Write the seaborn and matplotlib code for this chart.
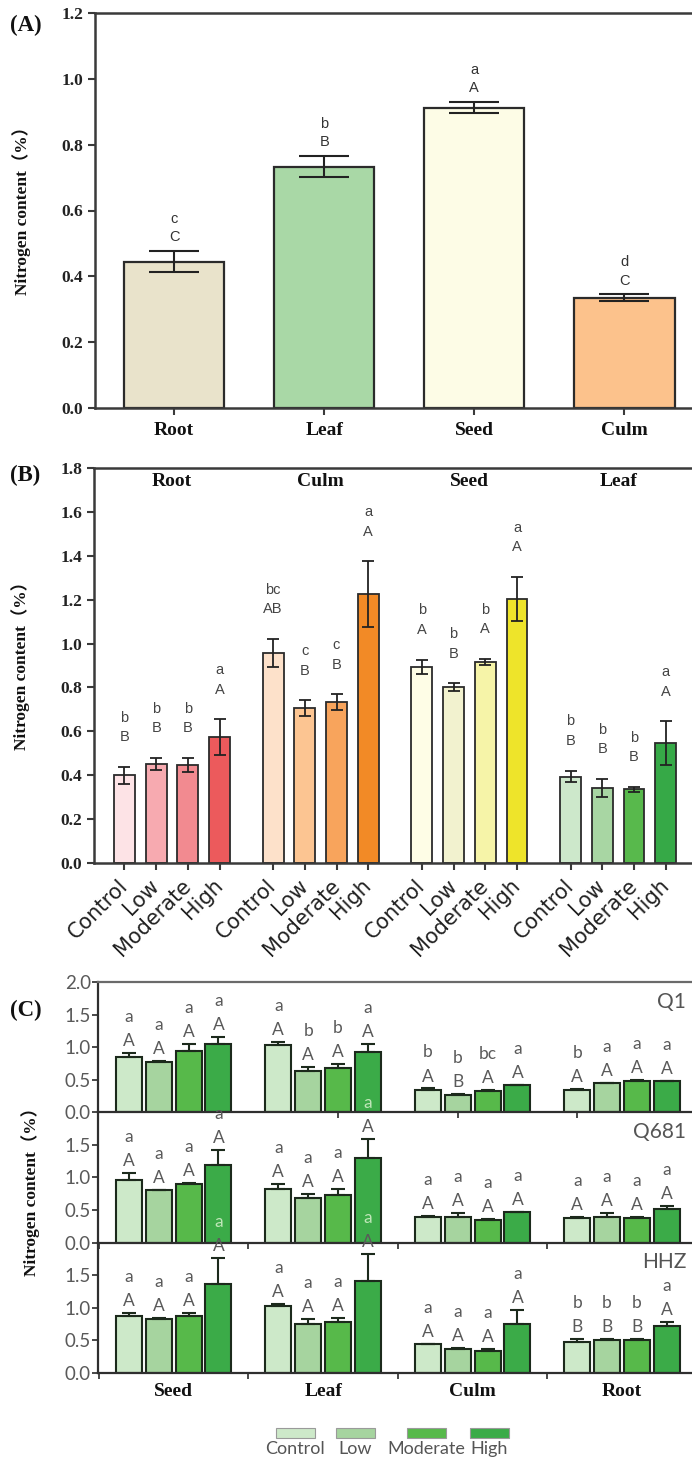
import numpy as np
import pandas as pd
import matplotlib
matplotlib.use("Agg")
import matplotlib.pyplot as plt
import seaborn as sns
from matplotlib.patches import Rectangle

# ---------------- data: panel A ----------------
a_tissues = ["Root", "Leaf", "Seed", "Culm"]
a_values = [0.445, 0.733, 0.912, 0.335]
a_errors = [0.032, 0.032, 0.017, 0.010]
a_lower = ["c", "b", "a", "d"]
a_upper = ["C", "B", "A", "C"]
a_colors = ["#e9e3cb", "#a9d8a6", "#fdfce6", "#fcc28c"]

# ---------------- data: panel B ----------------
treatments = ["Control", "Low", "Moderate", "High"]
b_groups = ["Root", "Culm", "Seed", "Leaf"]
b_values = [0.400, 0.452, 0.445, 0.574,
            0.957, 0.705, 0.733, 1.224,
            0.893, 0.801, 0.915, 1.203,
            0.394, 0.343, 0.336, 0.545]
b_errors = [0.038, 0.027, 0.032, 0.080,
            0.063, 0.036, 0.035, 0.150,
            0.034, 0.017, 0.014, 0.100,
            0.027, 0.040, 0.011, 0.100]
b_lower = ["b", "b", "b", "a", "bc", "c", "c", "a",
           "b", "b", "b", "a", "b", "b", "b", "a"]
b_upper = ["B", "B", "B", "A", "AB", "B", "B", "A",
           "A", "B", "A", "A", "B", "B", "B", "A"]
b_colors = ["#fde3e6", "#f7aab0", "#f28a90", "#ec5a5c",
            "#fde1ca", "#fcc592", "#f8a45c", "#f28a26",
            "#fefde6", "#f2f2cf", "#f6f4a8", "#eee42a",
            "#cde8cb", "#a8d6a3", "#58b94c", "#36a947"]

# ---------------- data: panel C ----------------
c_groups = ["Seed", "Leaf", "Culm", "Root"]
c_cultivars = ["Q1", "Q681", "HHZ"]
c_colors = ["#cde9c9", "#a6d49f", "#57b94a", "#3bab48"]

q1_values = [0.855, 0.768, 0.947, 1.048,
             1.028, 0.641, 0.682, 0.931,
             0.346, 0.265, 0.326, 0.412,
             0.346, 0.448, 0.473, 0.478]
q1_errors = [0.050, 0.020, 0.095, 0.110,
             0.050, 0.056, 0.056, 0.117,
             0.020, 0.010, 0.015, 0.010,
             0.010, 0.005, 0.030, 0.010]
q1_lower = ["a", "a", "a", "a", "a", "b", "b", "a",
            "b", "b", "bc", "a", "b", "a", "a", "a"]
q1_upper = ["A", "A", "A", "A", "A", "A", "A", "A",
            "A", "B", "A", "A", "A", "A", "A", "A"]

q681_values = [0.957, 0.800, 0.905, 1.187,
               0.824, 0.685, 0.726, 1.304,
               0.394, 0.394, 0.348, 0.470,
               0.378, 0.394, 0.384, 0.517]
q681_errors = [0.117, 0.005, 0.015, 0.230,
               0.080, 0.057, 0.097, 0.280,
               0.010, 0.060, 0.015, 0.005,
               0.016, 0.060, 0.010, 0.040]
q681_lower = ["a"] * 16
q681_upper = ["A"] * 16

hhz_values = [0.867, 0.832, 0.878, 1.367,
              1.020, 0.755, 0.780, 1.418,
              0.439, 0.362, 0.337, 0.745,
              0.469, 0.510, 0.500, 0.720]
hhz_errors = [0.060, 0.005, 0.045, 0.390,
              0.040, 0.070, 0.065, 0.410,
              0.010, 0.025, 0.035, 0.220,
              0.045, 0.010, 0.015, 0.060]
hhz_lower = ["a", "a", "a", "a", "a", "a", "a", "a",
             "a", "a", "a", "a", "b", "b", "b", "a"]
hhz_upper = ["A", "A", "A", "A", "A", "A", "A", "A",
             "A", "A", "A", "A", "B", "B", "B", "A"]

# ---------------- style ----------------
sns.set_theme(style="ticks")
plt.rcParams["font.family"] = ["Liberation Serif", "DejaVu Sans"]
SERIF = ["Liberation Serif", "Noto Sans CJK SC"]
SANS = "Liberation Sans"
CAL = "Lato"
DPI = 100
W, H = 692, 1458
fig = plt.figure(figsize=(W / DPI, H / DPI), dpi=DPI)
fig.patch.set_facecolor("white")


def fx(px):
    return px / W


def fy(py):
    return 1 - py / H


def style_axes(ax, spine_color="#3a3a3a", lw=1.8):
    ax.set_facecolor("none")
    for s in ["left", "bottom", "top"]:
        ax.spines[s].set_color(spine_color)
        ax.spines[s].set_linewidth(lw)
    ax.spines["right"].set_visible(False)


def bars(ax, pos, vals, colors, width, edge, lw):
    df = pd.DataFrame({"pos": pos, "val": vals})
    sns.barplot(data=df, x="pos", y="val", native_scale=True, width=width,
                errorbar=None, color="white", edgecolor=edge, linewidth=lw,
                ax=ax, zorder=2)
    for patch, c in zip(ax.patches, colors):
        patch.set_facecolor(c)


def letters(ax, xs, tops, lows, ups, off_pt, gap_pt, size, color, family,
            overflow_color=None):
    for x, t, lo, up in zip(xs, tops, lows, ups):
        for txt, off in [(up, off_pt), (lo, off_pt + gap_pt)]:
            col = color
            if overflow_color is not None:
                ypix = ax.transData.transform((x, t))[1] + off * DPI / 72
                if ypix > ax.bbox.y1 + 5:
                    col = overflow_color
            ax.annotate(txt, (x, t), xytext=(0, off), textcoords="offset points",
                        ha="center", va="center", fontsize=size, color=col,
                        family=family, annotation_clip=False, zorder=5)


# ================= Panel A =================
ax_a = fig.add_axes([fx(95), fy(408), fx(597), 395 / H])
style_axes(ax_a)
a_pos = np.arange(len(a_tissues))
bars(ax_a, a_pos, a_values, a_colors, 0.667, "#2b2b2b", 1.6)
ax_a.errorbar(a_pos, a_values, yerr=a_errors, fmt="none", ecolor="#222",
              elinewidth=1.5, capsize=18, capthick=1.5, zorder=3)
ax_a.set_xlim(-0.527, 3.45)
ax_a.set_ylim(0, 1.2)
ax_a.set_yticks(np.arange(0, 1.21, 0.2))
ax_a.set_yticklabels([f"{v:.1f}" for v in np.arange(0, 1.21, 0.2)])
ax_a.set_xticks(a_pos)
ax_a.set_xticklabels(a_tissues)
ax_a.tick_params(axis="both", direction="out", length=5, width=1.5, color="#3a3a3a")
ax_a.tick_params(axis="x", pad=5)
plt.setp(ax_a.get_xticklabels(), family=SERIF, weight="bold", fontsize=14, color="#111")
plt.setp(ax_a.get_yticklabels(), family=SERIF, weight="bold", fontsize=12.5, color="#222")
ax_a.set_xlabel("")
ax_a.set_ylabel("Nitrogen content（%）", family=SERIF, weight="bold", fontsize=12.5, color="#111")
ax_a.yaxis.set_label_coords(-0.108, 0.51)
letters(ax_a, a_pos, np.array(a_values) + np.array(a_errors), a_lower, a_upper,
        10, 13, 10.5, "#333", SANS)
fig.text(fx(10), fy(25), "(A)", family=SERIF, weight="bold", fontsize=16.5,
         ha="left", va="center", color="#111")

# ================= Panel B =================
ax_b = fig.add_axes([fx(94), fy(863), fx(598), 395 / H])
style_axes(ax_b)
b_pos = np.array([g * 4.69 + i for g in range(4) for i in range(4)])
bars(ax_b, b_pos, b_values, b_colors, 0.66, "#2b2b2b", 1.3)
ax_b.errorbar(b_pos, b_values, yerr=b_errors, fmt="none", ecolor="#222",
              elinewidth=1.3, capsize=4.3, capthick=1.3, zorder=3)
ax_b.set_xlim(-0.96, 17.9)
ax_b.set_ylim(0, 1.8)
ax_b.set_yticks(np.arange(0, 1.81, 0.2))
ax_b.set_yticklabels([f"{v:.1f}" for v in np.arange(0, 1.81, 0.2)])
ax_b.set_xticks(b_pos)
ax_b.set_xticklabels(treatments * 4, rotation=45, ha="right", va="center",
                     rotation_mode="anchor")
ax_b.tick_params(axis="both", direction="out", length=5, width=1.5, color="#3a3a3a")
ax_b.tick_params(axis="x", pad=9)
plt.setp(ax_b.get_xticklabels(), family="DejaVu Sans", fontsize=15, color="#222")
plt.setp(ax_b.get_yticklabels(), family=SERIF, weight="bold", fontsize=12.5, color="#222")
ax_b.set_xlabel("")
ax_b.set_ylabel("Nitrogen content（%）", family=SERIF, weight="bold", fontsize=12.5, color="#111")
ax_b.yaxis.set_label_coords(-0.107, 0.51)
letters(ax_b, b_pos, np.array(b_values) + np.array(b_errors), b_lower, b_upper,
        21.5, 14, 10.5, "#444", SANS)
for g, name in enumerate(b_groups):
    ax_b.text(g * 4.69 + 1.5, 0.965, name, transform=ax_b.get_xaxis_transform(),
              ha="center", va="center", family=SERIF, weight="bold", fontsize=14,
              color="#111")
fig.text(fx(10), fy(475), "(B)", family=SERIF, weight="bold", fontsize=16.5,
         ha="left", va="center", color="#111")

# ================= Panel C =================
c_pos = np.array([g * 5 + i for g in range(4) for i in range(4)])
c_bar_colors = c_colors * 4
c_values_all = [q1_values, q681_values, hhz_values]
c_errors_all = [q1_errors, q681_errors, hhz_errors]
c_lower_all = [q1_lower, q681_lower, hhz_lower]
c_upper_all = [q1_upper, q681_upper, hhz_upper]
c_top_px = 982
c_h_px = 130.3
c_axes = []
for k in range(3):
    ax = fig.add_axes([fx(98), fy(c_top_px + c_h_px * (k + 1)), fx(594), c_h_px / H])
    c_axes.append(ax)

for k, ax in enumerate(c_axes):
    style_axes(ax, spine_color="#2f2f2f", lw=1.6)
    ax.spines["top"].set_color("#6a6a6a")
    if k > 0:
        ax.spines["top"].set_visible(False)
    bars(ax, c_pos, c_values_all[k], c_bar_colors, 0.87, "#1c2a1c", 1.5)
    errs = np.array(c_errors_all[k])
    ax.errorbar(c_pos, c_values_all[k], yerr=[np.zeros_like(errs), errs], fmt="none",
                ecolor="#1c2a1c", elinewidth=1.5, capsize=4.7, capthick=1.5, zorder=3)
    ax.set_xlim(-1.03, 18.84)
    ax.set_ylim(0, 2.0)
    if k == 0:
        yt = np.arange(0, 2.01, 0.5)
    else:
        yt = np.arange(0, 1.51, 0.5)
    ax.set_yticks(yt)
    ax.set_yticklabels([f"{v:.1f}" for v in yt])
    plt.setp(ax.get_yticklabels(), family=CAL, fontsize=13.5, color="#595959")
    ax.tick_params(axis="y", direction="out", length=4, width=1.3, color="#3a3a3a", pad=1)
    if k == 0:
        ax.set_xticks([7, 11, 15])
    else:
        ax.set_xticks([-1, 4, 9, 14])
    ax.set_xticklabels([])
    ax.tick_params(axis="x", direction="out", length=4, width=1.3, color="#3a3a3a")
    ax.set_xlabel("")
    ax.set_ylabel("")
    ax.text(0.99, 0.85, c_cultivars[k], transform=ax.transAxes, ha="right", va="center",
            family=CAL, fontsize=15, color="#555")

for k, ax in enumerate(c_axes):
    tops = np.array(c_values_all[k]) + np.array(c_errors_all[k])
    letters(ax, c_pos, tops, c_lower_all[k], c_upper_all[k], 8.6, 17.3, 12.5,
            "#5a5a5a", CAL, overflow_color="#bfe6b8")

ax_bot = c_axes[-1]
ax_bot.set_xticks([g * 5 + 1.5 for g in range(4)], minor=True)
ax_bot.set_xticklabels(c_groups, minor=True)
ax_bot.tick_params(axis="x", which="minor", length=0, pad=7)
plt.setp(ax_bot.get_xticklabels(minor=True), family=SERIF, weight="bold", fontsize=14,
         color="#111")

fig.text(fx(31), fy(1187), "Nitrogen content（%）", rotation=90, family=SERIF,
         weight="bold", fontsize=12.5, ha="center", va="center", color="#111")
fig.text(fx(10), fy(1010), "(C)", family=SERIF, weight="bold", fontsize=16.5,
         ha="left", va="center", color="#111")

# legend (label under each swatch)
leg_x = [276, 336, 407, 470]
for x0, name, col in zip(leg_x, treatments, c_colors):
    fig.add_artist(Rectangle((fx(x0), fy(1438)), fx(39), 10 / H, transform=fig.transFigure,
                             facecolor=col, edgecolor="#9a9a9a", linewidth=0.8))
    fig.text(fx(x0 + 19.5), fy(1449), name, family=CAL, fontsize=13, color="#555",
             ha="center", va="center")

fig.savefig("out.png", dpi=DPI)
